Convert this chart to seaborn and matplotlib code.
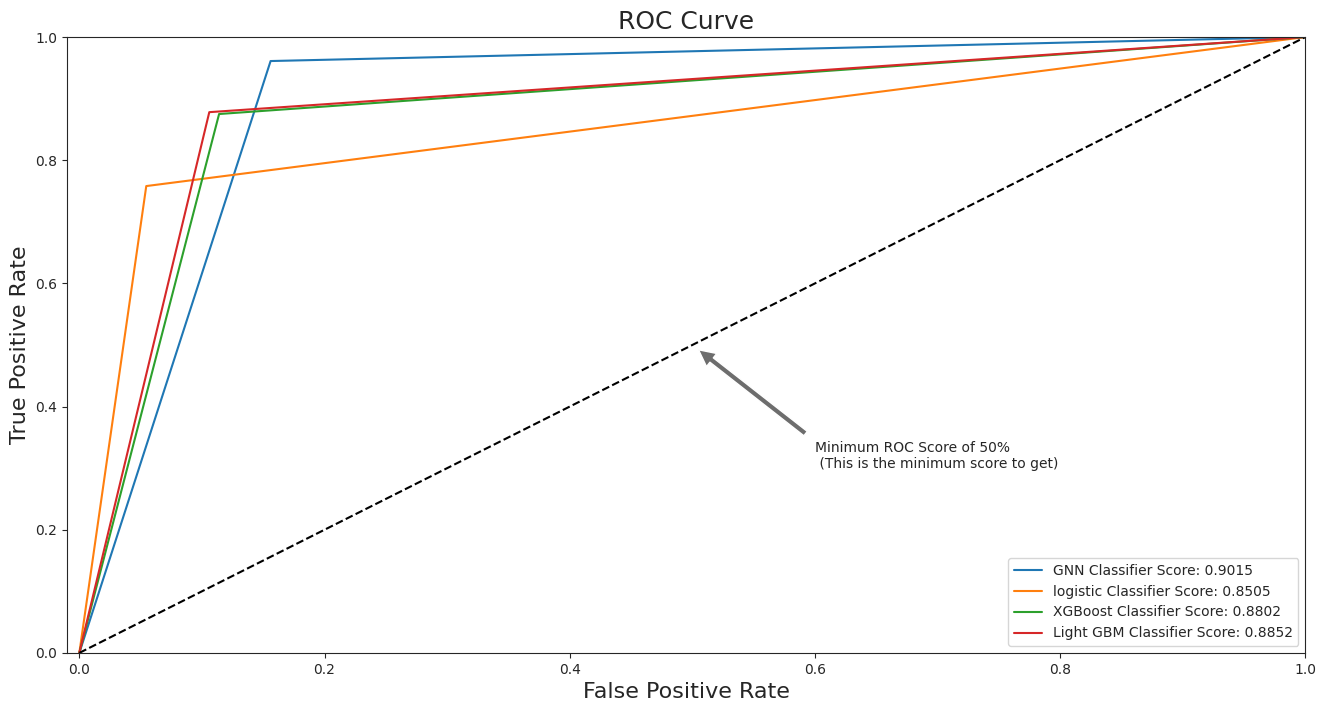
import matplotlib
matplotlib.use("Agg")
import matplotlib.pyplot as plt
import seaborn as sns
import pandas as pd

labels = ["GNN Classifier Score: 0.9015", "logistic Classifier Score: 0.8505",
          "XGBoost Classifier Score: 0.8802", "Light GBM Classifier Score: 0.8852"]
fpr = [[0, 0.156, 1], [0, 0.0546, 1], [0, 0.114, 1], [0, 0.106, 1]]
tpr = [[0, 0.961, 1], [0, 0.758, 1], [0, 0.875, 1], [0, 0.878, 1]]
colors = ["#1f77b4", "#ff7f0e", "#2ca02c", "#d62728"]

sns.set_style("ticks")
fig = plt.figure(figsize=(13.28, 7.12), dpi=100)
ax = fig.add_axes([0.0505, 0.083, 0.9325, 0.865])
for l, x, y, c in zip(labels, fpr, tpr, colors):
    df = pd.DataFrame({"x": x, "y": y})
    sns.lineplot(data=df, x="x", y="y", ax=ax, label=l, color=c, sort=False, estimator=None)
ax.plot([0, 1], [0, 1], "k--")
ax.set_xlim(-0.01, 1)
ax.set_ylim(0, 1)
ax.set_title("ROC Curve", fontsize=18)
ax.set_xlabel("False Positive Rate", fontsize=16)
ax.set_ylabel("True Positive Rate", fontsize=16)
ax.annotate("Minimum ROC Score of 50% \n (This is the minimum score to get)",
            xy=(0.5, 0.5), xytext=(0.6, 0.3),
            arrowprops=dict(facecolor="#6d6d6d", shrink=0.05))
ax.legend(loc="lower right")
fig.savefig("out.png", dpi=100)
